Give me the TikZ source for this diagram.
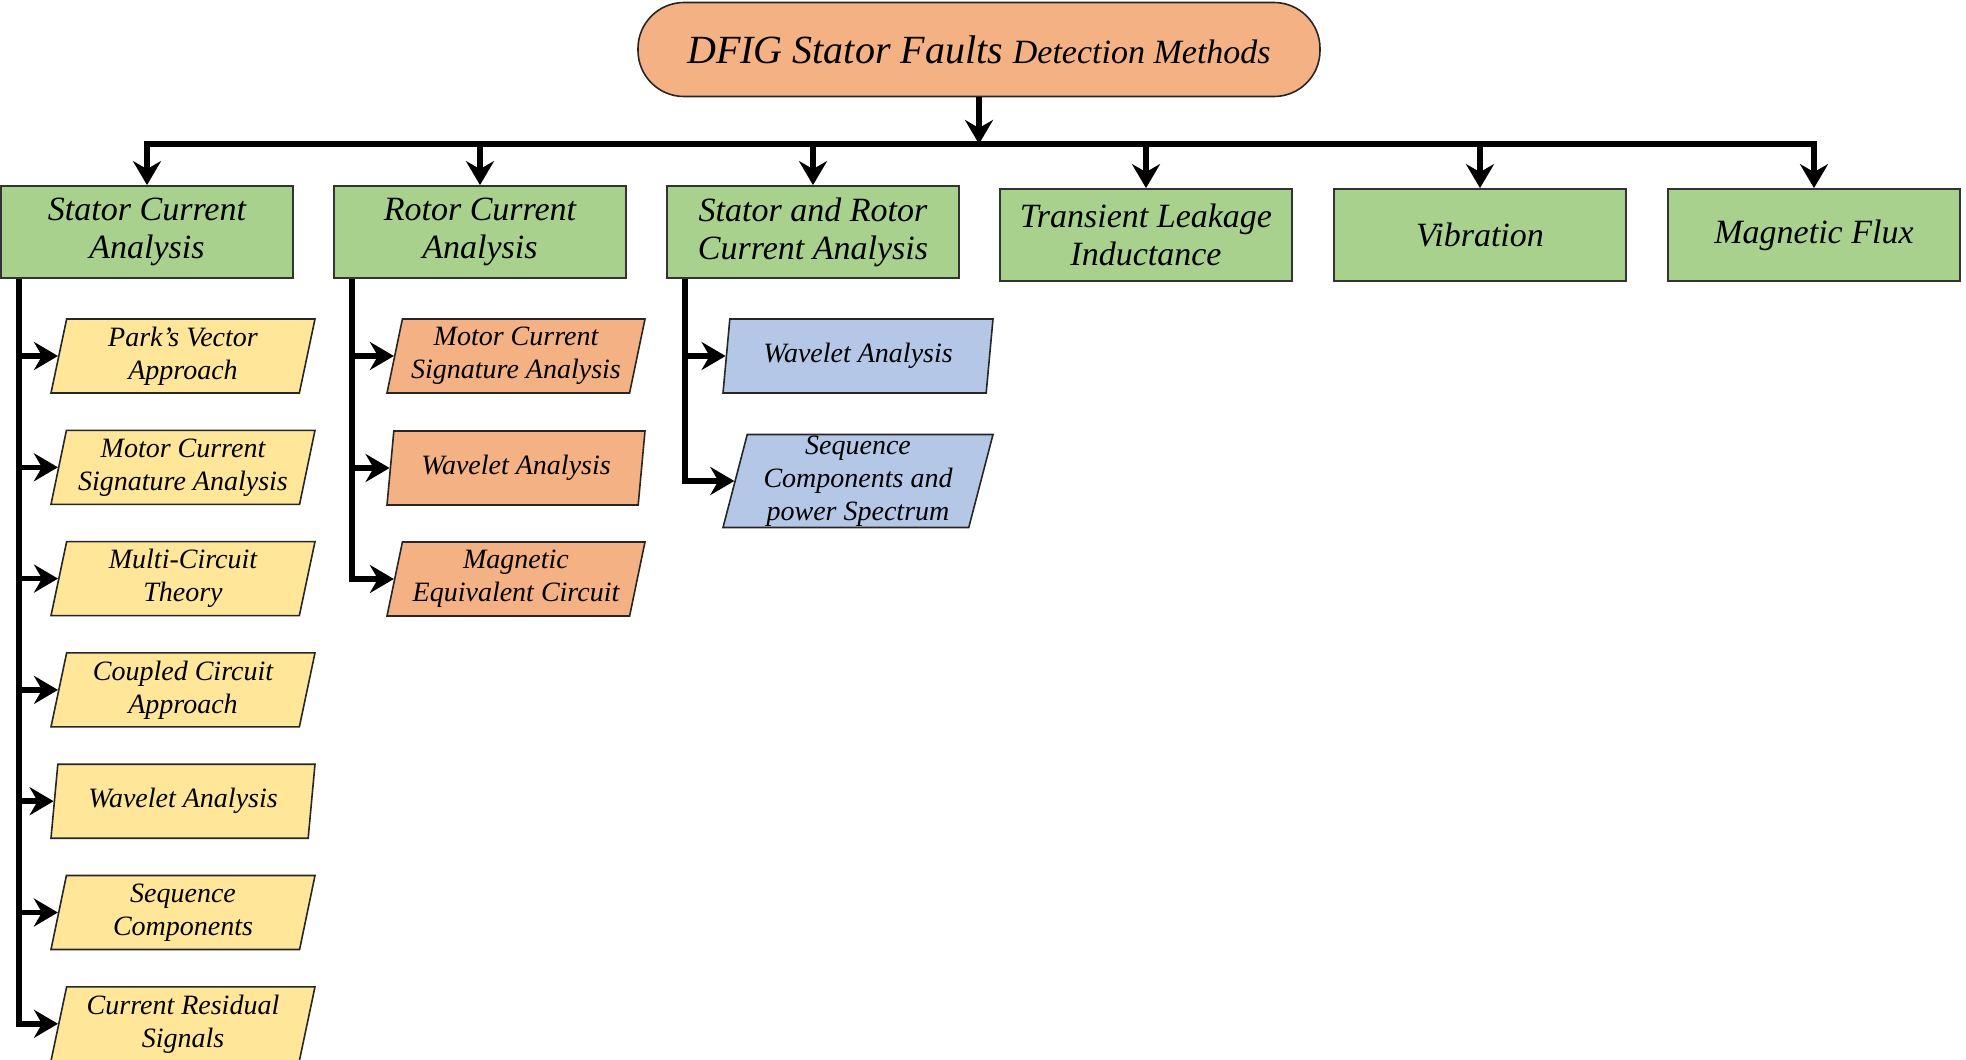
\documentclass[tikz,border=0pt]{standalone}
\usepackage{fontspec}
\setmainfont{Liberation Serif}
\usetikzlibrary{arrows.meta,shapes.geometric,positioning}

\definecolor{titlefill}{HTML}{F4B183}
\definecolor{methodfill}{HTML}{A9D18E}
\definecolor{statorfill}{HTML}{FFE699}
\definecolor{rotorfill}{HTML}{F4B183}
\definecolor{bothfill}{HTML}{B4C7E7}

\tikzset{
  method/.style={draw=black!80, line width=0.9pt, fill=methodfill,
    minimum width=146pt, minimum height=46pt, inner sep=1pt, align=center,
    font=\fontsize{17}{19}\selectfont\itshape},
  technique/.style={trapezium, trapezium left angle=75, trapezium right angle=105,
    trapezium stretches body=true, draw=black!85, line width=0.8pt,
    minimum width=132pt, minimum height=37pt, inner sep=0pt, align=center,
    font=\fontsize{14}{16.5}\selectfont\itshape},
  feed/.style={line width=2.8pt, -{Stealth[length=12pt,width=14pt,inset=4pt]}},
}

\begin{document}
\begin{tikzpicture}[x=0.5pt, y=-0.5pt]
    \useasboundingbox (0,0) rectangle (1966,1060);

    \def\busy{144}% height of the bus line
    \def\stepy{111.3}% distance between two stator techniques

    % Title
    \node[draw=black!85, line width=0.8pt, fill=titlefill, rounded corners=23pt,
          minimum width=341pt, minimum height=47pt] (title) at (979,49.5)
        {\fontsize{20}{24}\selectfont\itshape DFIG Stator Faults
         \fontsize{17}{24}\selectfont Detection Methods};

    % Methods
    \node[method] (stator) at (147,232) {Stator Current\\Analysis};
    \node[method] (rotor) at (480,232) {Rotor Current\\Analysis};
    \node[method] (both) at (813,232) {Stator and Rotor\\Current Analysis};
    \node[method] (leak) at (1146,235) {Transient Leakage\\Inductance};
    \node[method] (vib) at (1480,235) {Vibration};
    \node[method] (flux) at (1814,235) {Magnetic Flux};

    % Bus
    \coordinate (busrow) at (0,\busy);
    \draw[feed] (title.south) -- (title.south |- busrow);
    \draw[feed] (title.south |- busrow) -| (stator.north);
    \draw[feed] (title.south |- busrow) -| (flux.north);
    \foreach \m in {rotor,both,leak,vib}
        \draw[feed] (\m.north |- busrow) -- (\m.north);

    % Stator current techniques
    \foreach \t [count=\i from 0] in {{Park's Vector\\Approach},
        {Motor Current\\Signature Analysis}, {Multi-Circuit\\Theory},
        {Coupled Circuit\\Approach}, {Wavelet Analysis},
        {Sequence\\Components}, {Current Residual\\Signals}}
        \node[technique, fill=statorfill] (st\i) at (183,{356+\i*\stepy}) {\t};

    \coordinate (stspine) at (19,0);
    \draw[feed] (stspine |- stator.south) |- (st6.left side);
    \foreach \i in {0,...,5}
        \draw[feed] (stspine |- st\i.left side) -- (st\i.left side);

    % Rotor current techniques
    \node[technique, fill=rotorfill, minimum width=129pt] (rt0) at (516,356) {Motor Current\\Signature Analysis};
    \node[technique, fill=rotorfill, minimum width=129pt] (rt1) at (516,468) {Wavelet Analysis};
    \node[technique, fill=rotorfill, minimum width=129pt] (rt2) at (516,579) {Magnetic\\Equivalent Circuit};

    \coordinate (rtspine) at (352,0);
    \draw[feed] (rtspine |- rotor.south) |- (rt2.left side);
    \foreach \i in {0,1}
        \draw[feed] (rtspine |- rt\i.left side) -- (rt\i.left side);

    % Stator and rotor current techniques
    \node[technique, fill=bothfill, minimum width=135pt] (bt0) at (858,356) {Wavelet Analysis};
    \node[technique, fill=bothfill, minimum width=135pt, minimum height=46.5pt] (bt1) at (858,481)
        {Sequence\\Components and\\power Spectrum};

    \coordinate (btspine) at (685,0);
    \draw[feed] (btspine |- both.south) |- (bt1.left side);
    \draw[feed] (btspine |- bt0.left side) -- (bt0.left side);
\end{tikzpicture}
\end{document}
